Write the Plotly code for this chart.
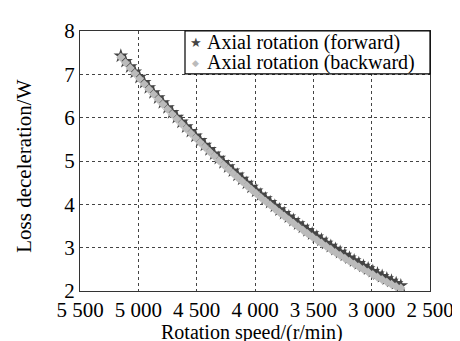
import plotly.graph_objects as go

speed = [5150, 5110, 5070, 5030, 4990, 4950, 4910, 4870, 4830, 4790,
         4750, 4710, 4670, 4630, 4590, 4550, 4510, 4470, 4430, 4390,
         4350, 4310, 4270, 4230, 4190, 4150, 4110, 4070, 4030, 3990,
         3950, 3910, 3870, 3830, 3790, 3750, 3710, 3670, 3630, 3590,
         3550, 3510, 3470, 3430, 3390, 3350, 3310, 3270, 3230, 3190,
         3150, 3110, 3070, 3030, 2990, 2950, 2910, 2870, 2830, 2790, 2750]

loss_forward = [7.425, 7.300, 7.177, 7.055, 6.934, 6.814, 6.695, 6.578, 6.462, 6.347,
                6.234, 6.121, 6.010, 5.900, 5.791, 5.684, 5.578, 5.473, 5.369, 5.266,
                5.165, 5.065, 4.966, 4.869, 4.772, 4.677, 4.583, 4.490, 4.399, 4.309,
                4.220, 4.132, 4.046, 3.960, 3.876, 3.794, 3.712, 3.632, 3.553, 3.475,
                3.398, 3.323, 3.249, 3.176, 3.104, 3.034, 2.964, 2.896, 2.830, 2.764,
                2.700, 2.637, 2.575, 2.514, 2.455, 2.397, 2.340, 2.284, 2.230, 2.176, 2.124]

loss_backward = [7.395, 7.268, 7.144, 7.021, 6.899, 6.778, 6.658, 6.540, 6.423, 6.307,
                 6.193, 6.079, 5.967, 5.856, 5.746, 5.638, 5.531, 5.425, 5.320, 5.216,
                 5.114, 5.013, 4.913, 4.815, 4.717, 4.621, 4.526, 4.432, 4.340, 4.249,
                 4.159, 4.070, 3.983, 3.896, 3.811, 3.728, 3.645, 3.564, 3.484, 3.405,
                 3.328, 3.252, 3.177, 3.104, 3.031, 2.960, 2.890, 2.821, 2.754, 2.688,
                 2.623, 2.560, 2.498, 2.437, 2.378, 2.320, 2.263, 2.207, 2.153, 2.100, 2.068]

series_names = ["Axial rotation (forward)", "Axial rotation (backward)"]
series_colors = ["#454545", "#bbbbbb"]

x_ticks = [5500, 5000, 4500, 4000, 3500, 3000, 2500]
x_ticklabels = ["5 500", "5 000", "4 500", "4 000", "3 500", "3 000", "2 500"]
y_ticks = [2, 3, 4, 5, 6, 7, 8]
x_title = "Rotation speed/(r/min)"
y_title = "Loss deceleration/W"

font_family = "Liberation Serif, Times New Roman, serif"
fs = 21

fig = go.Figure()
fig.add_trace(go.Scatter(
    x=speed, y=loss_forward, mode="markers", name=series_names[0],
    marker=dict(symbol="star", size=11, color=series_colors[0], line=dict(width=0)),
))
fig.add_trace(go.Scatter(
    x=speed, y=loss_backward, mode="markers", name=series_names[1],
    marker=dict(symbol="diamond", size=7, color=series_colors[1], line=dict(width=0)),
))

axis_common = dict(
    showline=True, linecolor="#333333", linewidth=1, mirror=True,
    showgrid=True, gridcolor="#444444", gridwidth=1, griddash="dot",
    zeroline=False, ticks="", ticklabeloverflow="allow",
    tickfont=dict(family=font_family, size=fs, color="black"),
)

# manual legend box (top-right, inside the plot)
fig.add_shape(type="rect", xref="x domain", yref="y domain",
              x0=0.30, x1=1.0, y0=0.835, y1=1.0,
              line=dict(color="black", width=1.2), fillcolor="white", layer="above")
legend_rows = [0.956, 0.878]
legend_glyphs = ["★", "◆"]
glyph_sizes = [13, 9]
for name, col, yrow, glyph, gs in zip(series_names, series_colors, legend_rows, legend_glyphs, glyph_sizes):
    fig.add_annotation(xref="x domain", yref="y domain", x=0.331, y=yrow,
                       text=glyph, showarrow=False, xanchor="center", yanchor="middle",
                       font=dict(family="DejaVu Sans", size=gs, color=col))
    fig.add_annotation(xref="x domain", yref="y domain", x=0.357, y=yrow,
                       text=name, showarrow=False, xanchor="left", yanchor="middle",
                       font=dict(family=font_family, size=20, color="black"))

# axis titles
fig.add_annotation(xref="x domain", yref="paper", x=0.49, y=-0.209,
                   text=x_title, showarrow=False, xanchor="center", yanchor="bottom",
                   borderpad=0,
                   font=dict(family=font_family, size=20, color="black"))
fig.add_annotation(xref="x domain", yref="y domain", x=-0.16, y=0.478,
                   text=y_title, showarrow=False, xanchor="center", yanchor="middle",
                   textangle=-90,
                   font=dict(family=font_family, size=fs, color="black"))

fig.update_layout(
    width=460, height=341,
    margin=dict(l=72, r=38, t=11, b=58),
    paper_bgcolor="white", plot_bgcolor="white",
    font=dict(family=font_family, size=fs, color="black"),
    showlegend=False,
    xaxis=dict(range=[5500, 2500], tickvals=x_ticks, ticktext=x_ticklabels, **axis_common),
    yaxis=dict(range=[2, 8], tickvals=y_ticks, **axis_common),
)

fig.write_html("out.html")
